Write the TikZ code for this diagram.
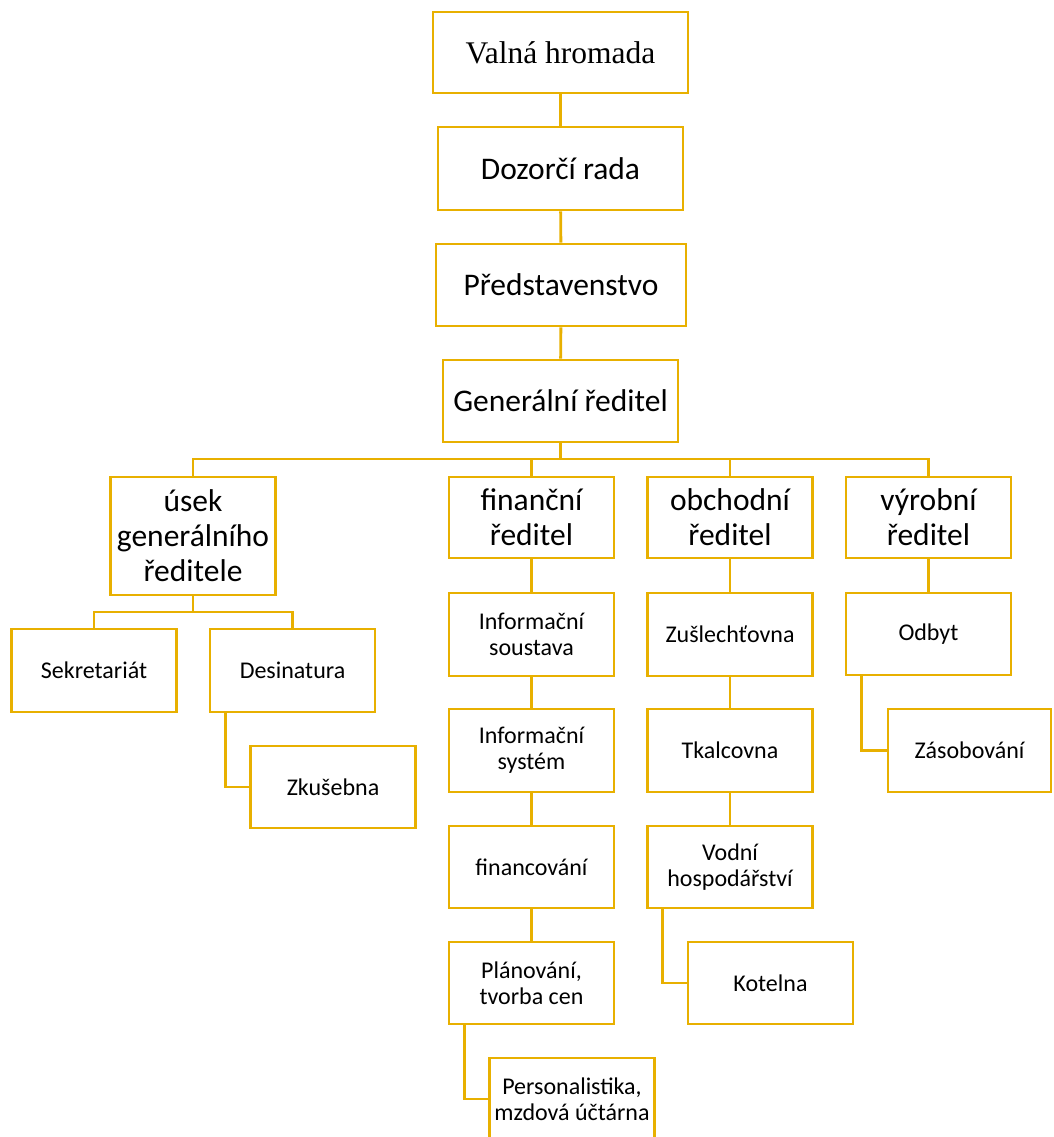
\documentclass[tikz,border=0pt]{standalone}
\usepackage{fontspec}
\setmainfont{Carlito}
\newfontfamily\vhfont{Liberation Serif}
\definecolor{zlata}{RGB}{232,176,0}
\begin{document}
\begin{tikzpicture}[x=1pt,y=-1pt,
  box/.style={draw=zlata, line width=2.9pt, rectangle, inner sep=0pt,
    minimum width=165pt, minimum height=82pt, align=center},
  velky/.style={box, font=\fontsize{31.5}{35}\selectfont},
  maly/.style={box, font=\fontsize{24}{26}\selectfont},
  spoj/.style={draw=zlata, line width=2.9pt}]
\useasboundingbox (0,0) rectangle (1053,1137);
\clip (0,0) rectangle (1053,1137);

% vedeni
\node[velky, minimum width=255pt, minimum height=81pt, font=\vhfont\fontsize{31.5}{35}\selectfont] (vh) at (560.5,52.5) {Valná hromada};
\node[velky, minimum width=245pt, minimum height=83pt] (dr) at (560.5,168.5) {Dozorčí rada};
\node[velky, minimum width=250pt] (pr) at (561,285) {Představenstvo};
\node[velky, minimum width=235pt] (gr) at (560.5,401) {Generální ředitel};

% usek a reditele
\node[velky, minimum height=118pt] (usek) at (193,536) {úsek\\generálního\\ředitele};
\node[velky, minimum height=81pt] (fin) at (531.5,517.5) {finanční\\ředitel};
\node[velky, minimum height=81pt] (obch) at (730,517.5) {obchodní\\ředitel};
\node[velky, minimum height=81pt] (vyr) at (928.5,517.5) {výrobní\\ředitel};

% usek generalniho reditele
\node[maly, minimum height=83pt] (sek) at (94,670.5) {Sekretariát};
\node[maly, minimum height=83pt] (des) at (292.5,670.5) {Desinatura};
\node[maly] (zku) at (333,787) {Zkušebna};

% financni reditel
\node[maly, minimum height=83pt] (infs) at (531.5,634.5) {Informační\\soustava};
\node[maly, minimum height=83pt] (info) at (531.5,750.5) {Informační\\systém};
\node[maly] (fc) at (531.5,867) {financování};
\node[maly] (plan) at (531.5,983) {Plánování,\\tvorba cen};
\node[maly] (pers) at (572,1099) {Personalistika,\\mzdová účtárna};

% obchodni reditel
\node[maly, minimum height=83pt] (zus) at (730,634.5) {Zušlechťovna};
\node[maly, minimum height=83pt] (tk) at (730,750.5) {Tkalcovna};
\node[maly] (vod) at (730,867) {Vodní\\hospodářství};
\node[maly] (kot) at (770.5,983) {Kotelna};

% vyrobni reditel
\node[maly] (odb) at (928.5,634) {Odbyt};
\node[maly, minimum width=163pt, minimum height=83pt] (zas) at (969.5,750.5) {Zásobování};

\coordinate (sbernice) at (560.5,459);
\coordinate (usbernice) at (193,612);

% spoje
\draw[spoj] (vh) -- (dr);
\draw[spoj] (dr) -- (pr);
\draw[spoj] (pr) -- (gr);
\draw[spoj] (gr) -- (sbernice);
\draw[spoj] (usek.north) |- (sbernice) -| (vyr.north);
\draw[spoj] (fin.north) |- (sbernice);
\draw[spoj] (obch.north) |- (sbernice);

\draw[spoj] (usek) -- (usbernice);
\draw[spoj] (sek.north) |- (usbernice) -| (des.north);
\draw[spoj] ([xshift=17pt]des.south west) |- (zku.west);

\draw[spoj] (fin) -- (infs);
\draw[spoj] (infs) -- (info);
\draw[spoj] (info) -- (fc);
\draw[spoj] (fc) -- (plan);
\draw[spoj] ([xshift=17pt]plan.south west) |- (pers.west);

\draw[spoj] (obch) -- (zus);
\draw[spoj] (zus) -- (tk);
\draw[spoj] (tk) -- (vod);
\draw[spoj] ([xshift=16pt]vod.south west) |- (kot.west);

\draw[spoj] (vyr) -- (odb);
\draw[spoj] ([xshift=17pt]odb.south west) |- (zas.west);
\end{tikzpicture}
\end{document}
